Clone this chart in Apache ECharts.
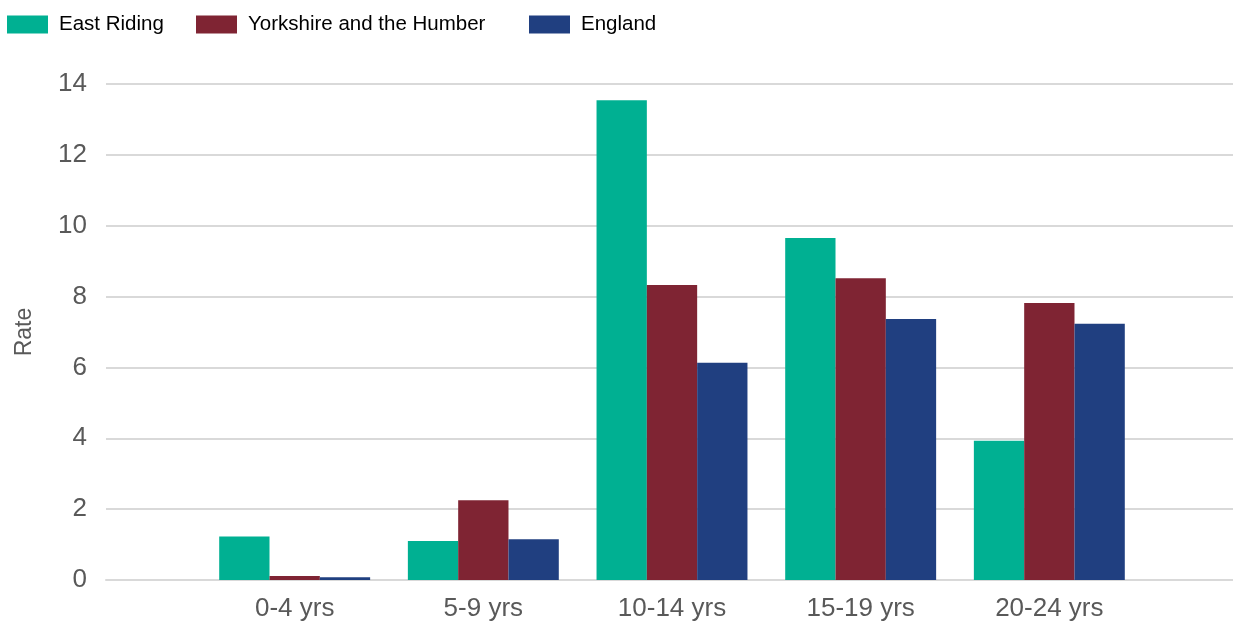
<!DOCTYPE html>
<html>
<head>
<meta charset="utf-8">
<title>Rate by age group</title>
<script src="https://cdn.jsdelivr.net/npm/echarts@6/dist/echarts.min.js"></script>
<style>
  html, body { margin: 0; padding: 0; background: #ffffff; }
  #chart { width: 1233px; height: 624px; }
</style>
</head>
<body>
<div id="chart"></div>
<script>
// Age groups and rates per area
const ageGroups = ['0-4 yrs', '5-9 yrs', '10-14 yrs', '15-19 yrs', '20-24 yrs'];
const eastRiding = [1.23, 1.10, 13.54, 9.65, 3.93];
const yorkshireHumber = [0.11, 2.25, 8.33, 8.52, 7.82];
const england = [0.08, 1.15, 6.13, 7.37, 7.23];
const seriesNames = ['East Riding', 'Yorkshire and the Humber', 'England'];
const seriesColors = ['#00b092', '#7f2433', '#203f80'];
const rateTicks = { min: 0, max: 14, step: 2 };

const FONT = "'Liberation Sans', Arial, sans-serif";

// The axis runs half a group beyond the first and last age group,
// so the groups sit on points with an empty slot at each end.
const axisCategories = [''].concat(ageGroups, ['']);
const pad = arr => [null].concat(arr, [null]);

// One legend per series so each key sits at its own spot along the top
const legendLeft = [2, 191, 524];
const legends = seriesNames.map((name, i) => ({
  left: legendLeft[i],
  top: 9,
  icon: 'rect',
  itemWidth: 41,
  itemHeight: 18,
  textStyle: { fontFamily: FONT, fontSize: 20.5, color: '#000000', padding: [0, 0, 0, 6] },
  data: [name]
}));

const chart = echarts.init(document.getElementById('chart'), null, { renderer: 'canvas' });

chart.setOption({
  animation: false,
  backgroundColor: '#ffffff',
  textStyle: { fontFamily: FONT },
  legend: legends,
  grid: {
    left: 106,
    width: 1132,
    top: 84,
    bottom: 44,
    containLabel: false,
    outerBoundsMode: 'none'
  },
  xAxis: {
    type: 'category',
    data: axisCategories,
    boundaryGap: false,
    axisLine: { show: true, lineStyle: { color: '#d9d9d9', width: 2 } },
    axisTick: { show: false },
    axisLabel: { fontFamily: FONT, fontSize: 26, color: '#595959', margin: 16, interval: 0 },
    splitLine: { show: false }
  },
  yAxis: {
    type: 'value',
    min: rateTicks.min,
    max: rateTicks.max,
    interval: rateTicks.step,
    name: 'Rate',
    nameLocation: 'middle',
    nameGap: 70,
    nameTextStyle: { fontFamily: FONT, fontSize: 23, color: '#595959' },
    axisLine: { show: false },
    axisTick: { show: false },
    axisLabel: { fontFamily: FONT, fontSize: 26, color: '#595959', margin: 19 },
    splitLine: { show: true, lineStyle: { color: '#d9d9d9', width: 2 } }
  },
  series: [eastRiding, yorkshireHumber, england].map((values, i) => ({
    name: seriesNames[i],
    type: 'bar',
    data: pad(values),
    barGap: '0%',
    barCategoryGap: '20%',
    itemStyle: { color: seriesColors[i] }
  }))
});
</script>
</body>
</html>
